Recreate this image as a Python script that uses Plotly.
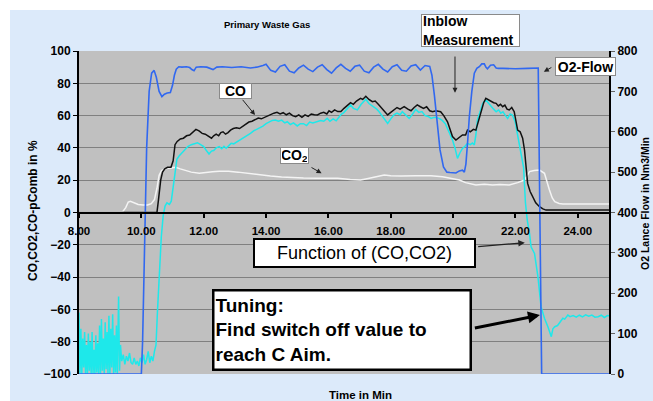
import plotly.graph_objects as go

# ---------------- data ----------------
o2_t = [8.0, 10.0, 10.04, 10.1, 10.17, 10.25, 10.33, 10.41, 10.48, 10.57, 10.66, 10.74, 10.83, 10.93,
        11.0, 11.06, 11.12, 11.2, 11.3, 11.45, 11.55, 11.62, 11.69, 11.76, 11.9, 12.1, 12.22, 12.3, 12.42,
        12.6, 12.9, 13.2, 13.5, 13.7, 13.9, 14.0, 14.15, 14.3, 14.45, 14.6, 14.75, 14.9, 15.05, 15.2,
        15.35, 15.5, 15.65, 15.8, 15.95, 16.1, 16.25, 16.4, 16.55, 16.7, 16.85, 17.0, 17.15, 17.3, 17.45,
        17.6, 17.75, 17.9, 18.05, 18.2, 18.35, 18.5, 18.65, 18.8, 18.95, 19.1, 19.25, 19.32, 19.4, 19.47,
        19.58, 19.69, 19.8, 19.9, 20.09, 20.2, 20.3, 20.36, 20.41, 20.47, 20.52, 20.6, 20.68, 20.76, 20.84,
        20.92, 21.0, 21.05, 21.1, 21.2, 21.3, 21.38, 21.45, 21.6, 22.0, 22.4, 22.73, 22.84, 25.0]
o2_flow = [0, 0, 80, 330, 560, 700, 745, 752, 735, 700, 687, 693, 696, 697,
           715, 740, 755, 761, 760, 761, 759, 754, 751, 760, 761, 760, 757, 754, 760,
           761, 759, 761, 758, 760, 764, 767, 752, 748, 762, 766, 750, 746, 758, 765,
           755, 749, 760, 766, 754, 745, 758, 767, 757, 750, 762, 765, 750, 746, 760,
           767, 755, 748, 761, 766, 752, 750, 763, 766, 753, 764, 762, 740, 690, 637,
           555, 513, 500, 499, 498, 503, 505, 500, 520, 580, 637, 700, 745, 757, 761,
           768, 768, 760, 756, 765, 766, 758, 757, 757, 756, 757, 758, 0, 0]

co_t = [8.0, 10.5, 10.55, 10.62, 10.68, 10.75, 10.84, 10.95, 11.02, 11.08, 11.15, 11.25, 11.35, 11.45,
        11.55, 11.65, 11.75, 11.85, 11.95, 12.05, 12.15, 12.25, 12.32, 12.4, 12.48, 12.55, 12.62, 12.7,
        12.78, 12.86, 12.95, 13.05, 13.15, 13.25, 13.35, 13.45, 13.55, 13.65, 13.75, 13.85, 13.95, 14.05,
        14.15, 14.25, 14.35, 14.45, 14.55, 14.65, 14.75, 14.85, 14.95, 15.05, 15.15, 15.25, 15.35, 15.45,
        15.55, 15.65, 15.75, 15.85, 15.95, 16.02, 16.1, 16.2, 16.3, 16.4, 16.5, 16.6, 16.71, 16.8, 16.9,
        17.03, 17.1, 17.2, 17.3, 17.41, 17.5, 17.6, 17.7, 17.8, 17.9, 18.0, 18.1, 18.2, 18.3, 18.43, 18.55,
        18.65, 18.75, 18.85, 18.95, 19.05, 19.15, 19.25, 19.34, 19.45, 19.6, 19.7, 19.82, 19.9, 19.98,
        20.09, 20.2, 20.3, 20.4, 20.46, 20.55, 20.65, 20.73, 20.8, 20.9, 20.98, 21.05, 21.12, 21.22, 21.3,
        21.38, 21.45, 21.52, 21.59, 21.66, 21.73, 21.8, 21.88, 21.96, 22.02, 22.07, 22.15, 22.23, 22.29,
        22.34, 22.39, 22.47, 22.55, 22.65, 22.77, 22.88, 22.98, 23.5, 25.0]
co_val = [0, 0, 8, 20, 25, 27, 28, 28, 32, 42, 44, 45.5, 46, 47.5,
          48, 50, 51.5, 50.5, 49, 48.5, 47, 46, 47.5, 48.5, 47.5, 49.5, 50, 48.5,
          49.5, 51, 52, 52.5, 52, 53.5, 54.5, 56, 56.5, 57.5, 58.5, 58, 59, 60,
          61, 61.5, 62, 61, 61.8, 60.5, 61.5, 60, 59.3, 60.5, 59, 60.5, 59.5, 61,
          60.5, 60.4, 61.5, 62, 61, 63, 62, 63.5, 62.5, 62.5, 64.5, 66, 68, 67, 69,
          70.7, 70, 72, 70, 68.6, 69, 67, 65, 62.5, 60.4, 62, 63.5, 65, 64, 65.5, 64,
          63, 65, 66.6, 65.5, 64.5, 65.5, 63, 62.4, 63, 62.4, 60, 56.2, 52, 47,
          44.9, 46.5, 48, 48, 51, 50, 51.5, 51, 56, 63.5, 68, 70.7, 70, 68.6, 68,
          67.6, 66, 67, 65.5, 66.5, 64, 63.5, 65, 62.4, 56, 51, 50, 46, 38.7,
          28, 18, 13, 9.8, 6, 3.6, 2.2, 1.5, 1.6, 1.6]

pcomb_t = [8.00, 8.03, 8.06, 8.09, 8.12, 8.15, 8.18, 8.21, 8.24, 8.27, 8.30, 8.33, 8.36, 8.39, 8.42,
           8.45, 8.48, 8.51, 8.54, 8.57, 8.60, 8.63, 8.66, 8.69, 8.72, 8.75, 8.78, 8.81, 8.84, 8.87,
           8.90, 8.93, 8.96, 8.99, 9.02, 9.05, 9.08, 9.11, 9.14, 9.17, 9.20, 9.23, 9.27, 9.30, 9.33,
           9.37, 9.42, 9.47, 9.52, 9.57, 9.62, 9.67, 9.72, 9.77, 9.82, 9.87, 9.92, 9.97, 10.02, 10.07,
           10.12, 10.17, 10.22, 10.27, 10.32, 10.37, 10.42, 10.47, 10.52, 10.58, 10.64, 10.7, 10.76,
           10.82, 10.9, 10.96, 11.02, 11.08, 11.14, 11.21, 11.3, 11.4, 11.5, 11.6, 11.7, 11.8, 11.9,
           12.0, 12.08, 12.17, 12.25, 12.32, 12.4, 12.5, 12.58, 12.65, 12.72, 12.8, 12.88, 12.96, 13.05,
           13.14, 13.22, 13.32, 13.41, 13.5, 13.6, 13.7, 13.8, 13.9, 14.0, 14.1, 14.2, 14.3, 14.4, 14.5,
           14.6, 14.68, 14.78, 14.88, 15.0, 15.1, 15.2, 15.3, 15.4, 15.5, 15.64, 15.75, 15.85, 15.96,
           16.05, 16.15, 16.25, 16.39, 16.5, 16.6, 16.71, 16.8, 16.93, 17.05, 17.2, 17.3, 17.46, 17.55,
           17.62, 17.72, 17.82, 17.9, 18.0, 18.1, 18.2, 18.3, 18.37, 18.47, 18.59, 18.7, 18.8, 18.9,
           19.0, 19.1, 19.2, 19.29, 19.4, 19.55, 19.65, 19.75, 19.82, 19.9, 19.98, 20.06, 20.14, 20.22,
           20.3, 20.38, 20.46, 20.55, 20.62, 20.68, 20.73, 20.78, 20.87, 20.95, 21.05, 21.12, 21.22,
           21.3, 21.38, 21.46, 21.53, 21.6, 21.68, 21.75, 21.83, 21.9, 21.99, 22.07, 22.18, 22.26,
           22.32, 22.38, 22.45, 22.5, 22.61, 22.72, 22.82, 22.93, 23.04, 23.15, 23.2, 23.26, 23.35,
           23.41, 23.47, 23.52, 23.58, 23.68, 23.75, 23.85, 23.95, 24.05, 24.15, 24.25, 24.35, 24.45,
           24.55, 24.65, 24.75, 24.85, 24.95, 25.0]
pcomb_val = [-62, -100, -72, -100, -78, -96, -74, -100, -82, -100, -75, -98, -80, -100, -74,
             -100, -85, -100, -76, -99, -81, -100, -70, -100, -66, -98, -78, -100, -68, -97,
             -74, -100, -64, -100, -72, -96, -63, -100, -76, -99, -70, -100, -52, -98, -82,
             -92, -88, -94, -89, -92, -87, -93, -94, -90, -94, -92, -95, -90, -93, -88,
             -94, -91, -86, -93, -89, -92, -86, -82, -60, -35, -15, -2, 4,
             6, 5, 7, 15, 26, 33, 35, 37, 39, 41, 42, 42.5, 43.2, 42,
             40.8, 38.5, 36.2, 38, 38.4, 40, 40.8, 39.5, 41, 39.8, 41.5, 42.8, 42.5, 43.5,
             44.9, 45.5, 47, 48, 49, 50.5, 51.5, 52.1, 53.5, 55, 56, 57, 57.3, 56.5, 57.2,
             55.5, 56.2, 54.5, 55.5, 53.6, 55, 55, 53.8, 56, 55.5, 56.2, 57, 56.5, 58.3,
             56.5, 58, 56.8, 60.4, 62, 64, 66.6, 64.5, 63.5, 67, 70.1, 67.5, 65.5, 64,
             62.5, 60, 57, 55.2, 58, 60.4, 61.5, 60.5, 62.4, 60.5, 58.3, 61, 63.9, 62,
             62.5, 60, 59.5, 58.3, 59, 58.3, 57, 55, 52.1, 48, 44.9, 40, 33.5, 37,
             39.7, 41, 42.8, 42, 43, 41.8, 48, 57.3, 63, 67.6, 69.7, 68, 65.5,
             64, 62.4, 63.5, 61.5, 62.4, 60, 58.3, 61, 60.4, 56.2, 48, 36.7, 28,
             6, -5, -12.9, -21.2, -25.3, -39.7, -58.3, -65.5, -70.7, -76.9, -72, -70.7, -70,
             -68.6, -67, -65.5, -66, -63.5, -64.5, -63.8, -64.8, -63.6, -64.6, -63.4, -64.2, -63.5,
             -64.8, -64.5, -63.6, -65, -63.8, -64]

co2_t = [8.0, 9.4, 9.5, 9.58, 9.65, 9.75, 9.9, 10.05, 10.2, 10.32, 10.42, 10.5, 10.57, 10.65, 10.79,
         10.95, 11.1, 11.25, 11.43, 11.6, 11.86, 12.05, 12.28, 12.5, 12.8, 13.1, 13.36, 13.6, 13.8,
         14.14, 14.5, 14.78, 15.2, 15.64, 16.3, 16.7, 16.9, 17.03, 17.2, 17.4, 17.6, 17.79, 18.0,
         18.33, 18.8, 19.29, 19.66, 19.9, 20.2, 20.4, 20.73, 21.0, 21.27, 21.5, 21.8, 22.07, 22.29,
         22.38, 22.45, 22.6, 22.77, 22.93, 23.0, 23.09, 23.18, 23.26, 23.4, 23.52, 25.0]
co2_val = [0.5, 0.5, 3, 6.5, 7, 6, 5, 4.6, 4.6, 5.5, 8, 15, 23, 26, 27.3,
           27.5, 28, 27, 25.9, 25, 24.3, 24.8, 25.2, 25.5, 25.5, 25, 24.3, 23.8, 23.3,
           22.6, 22, 21.6, 21.3, 21.2, 21.2, 20.5, 20.0, 20.1, 20.8, 21.6, 22.5, 23.2, 22.8,
           22.6, 22.8, 22.8, 22.2, 21.2, 20.1, 18.5, 17, 17.5, 17, 17.3, 17, 18.5, 20.1,
           23, 25.3, 26, 26.3, 24.3, 19, 13.9, 9, 6.7, 5.6, 5.3, 5.3]

x_ticks = [8, 10, 12, 14, 16, 18, 20, 22, 24]
y_left_ticks = [-100, -80, -60, -40, -20, 0, 20, 40, 60, 80, 100]
y_right_ticks = [0, 100, 200, 300, 400, 500, 600, 700, 800]

FONT = "Liberation Sans, Arial, sans-serif"

fig = go.Figure()
fig.add_trace(go.Scatter(x=co2_t, y=co2_val, mode="lines", line=dict(color="#f4f4f4", width=1.5),
                         name="CO2", yaxis="y"))
fig.add_trace(go.Scatter(x=pcomb_t, y=pcomb_val, mode="lines", line=dict(color="#1ee8ea", width=1.5),
                         name="CO-pComb", yaxis="y"))
fig.add_trace(go.Scatter(x=co_t, y=co_val, mode="lines", line=dict(color="#111111", width=1.5),
                         name="CO", yaxis="y"))
fig.add_trace(go.Scatter(x=o2_t, y=o2_flow, mode="lines", line=dict(color="#3168f0", width=1.6),
                         name="O2-Flow", yaxis="y2"))

bold = dict(family=FONT, size=12, color="black", weight="bold")

fig.update_layout(
    width=653, height=401, autosize=False,
    margin=dict(l=79, r=44, t=51, b=27),
    paper_bgcolor="#dceafa",
    plot_bgcolor="#c0c0c0",
    showlegend=False,
    xaxis=dict(range=[8, 25], tickvals=x_ticks, tickformat=".2f", anchor="free", position=0.5,
               showline=True, linecolor="black", linewidth=2, ticks="outside", ticklen=4,
               tickcolor="black", tickwidth=1.5, showgrid=False, zeroline=False,
               tickfont=dict(family=FONT, size=11.5, color="black", weight="bold"),
               ticklabelstandoff=4),
    yaxis=dict(range=[-100, 100], tickvals=y_left_ticks, showline=True, linecolor="black",
               linewidth=2, ticks="outside", ticklen=4, tickcolor="black", showgrid=True,
               gridcolor="#808080", gridwidth=1.3, zeroline=False, tickfont=bold),
    yaxis2=dict(range=[0, 800], tickvals=y_right_ticks, overlaying="y", side="right",
                showline=True, linecolor="black", linewidth=2, ticks="outside", ticklen=4,
                tickcolor="#666666", showgrid=False, zeroline=False, tickfont=bold),
)

# white page strips top and left (outside the light-blue panel)
fig.add_shape(type="rect", xref="paper", yref="paper", x0=-0.16, x1=1.2, y0=1.127, y1=1.2,
              fillcolor="white", line_width=0, layer="below")
fig.add_shape(type="rect", xref="paper", yref="paper", x0=-0.16, x1=-0.1302, y0=-0.2, y1=1.2,
              fillcolor="white", line_width=0, layer="below")


def px_x(p):
    return (p - 79) / 530


def px_y(p):
    return (374 - p) / 323


# titles
def title(text, x, y, size, angle=0):
    fig.add_annotation(text=text, xref="paper", yref="paper", x=px_x(x), y=px_y(y),
                       xanchor="center", yanchor="middle", showarrow=False, textangle=angle,
                       font=dict(family=FONT, size=size, color="black", weight="bold"))


title("Primary Waste Gas", 267, 25, 9.5)
title("CO,CO2,CO-pComb in %", 33, 211, 12, -90)
title("O2 Lance Flow in Nm3/Min", 645, 204, 10.5, -90)
title("Time in Min", 360.5, 395, 11.5)


# label boxes
def box(text, x, y, w, h, size, bold_=True, bw=1, bc="#8a8a8a", align="center", ref="data"):
    xr, yr = ("x", "y") if ref == "data" else ("paper", "paper")
    fig.add_annotation(text=text, x=x, y=y, xref=xr, yref=yr, showarrow=False,
                       xanchor="center", yanchor="middle",
                       width=w, height=h, align=align, valign="middle",
                       bgcolor="white", bordercolor=bc, borderwidth=bw, borderpad=1,
                       font=dict(family=FONT, size=size, color="black",
                                 weight="bold" if bold_ else "normal"))


box("CO", 13.035, 75.2, 29, 12, 14)
box("CO<sub>2</sub>", 14.92, 35.2, 25, 13, 14)
box("Inblow<br>Measurement", px_x(470.5), px_y(30.8), 95, 29, 14, align="left", ref="paper")
box("O2-Flow", 24.26, 90.1, 57, 15, 14)
box("Function of (CO,CO2)", 17.16, -25.3, 217, 24, 18, bold_=False, bw=2, bc="black")
box("Tuning:<br>Find switch off value to<br>reach C Aim.", 16.45, -72.9, 253, 75, 19,
    bw=2.5, bc="black", align="left")


# arrows
def arrow(tx, ty, hx, hy, w=1, color="#222222", size=1):
    fig.add_annotation(text="", x=hx, y=hy, ax=tx, ay=ty, xref="x", yref="y", axref="x", ayref="y",
                       showarrow=True, arrowhead=2, arrowsize=size, arrowwidth=w, arrowcolor=color)


arrow(13.21, 70.7, 13.645, 60.4)
arrow(15.41, 28.4, 15.78, 24.3)
arrow(20.06, 97.5, 20.06, 74.2)
arrow(23.2, 90.3, 22.91, 87.2)
arrow(20.755, -21.2, 22.30, -18.7, w=1.3)
arrow(20.65, -71.7, 22.785, -63.5, w=3, color="black", size=0.8)

fig.write_html("out.html", config={"displayModeBar": False},
               post_script="document.body.style.margin='0px';")
